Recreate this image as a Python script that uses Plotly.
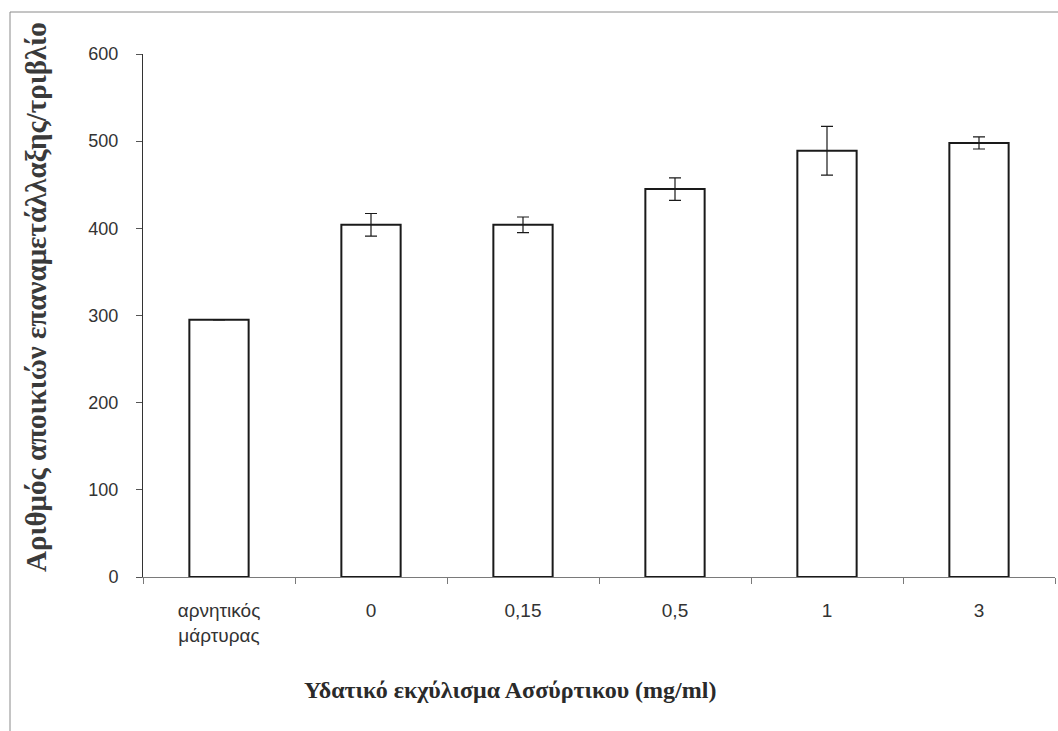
import plotly.graph_objects as go

# Colony counts per plate for each extract concentration
categories = ["αρνητικός<br>μάρτυρας", "0", "0,15", "0,5", "1", "3"]
mean_counts = [295, 404, 404, 445, 489, 498]
std_errors = [0, 13, 9, 13, 28, 7]
y_ticks = [0, 100, 200, 300, 400, 500, 600]

W, H = 1058, 731
L, R, T, B = 143, 3, 54, 154

fig = go.Figure()
fig.add_trace(go.Bar(
    x=categories,
    y=mean_counts,
    width=0.39,
    marker=dict(color="white", line=dict(color="#1a1a1a", width=2)),
    error_y=dict(type="data", array=std_errors, visible=True,
                 color="#1a1a1a", thickness=1.2, width=6),
    showlegend=False,
))

fig.update_layout(
    width=W, height=H,
    margin=dict(l=L, r=R, t=T, b=B),
    paper_bgcolor="white",
    plot_bgcolor="white",
    bargap=0.61,
    xaxis=dict(
        type="category",
        showline=True, linecolor="#7a7a7a", linewidth=1,
        ticks="outside", ticklen=6, tickcolor="#7a7a7a",
        tickson="boundaries",
        showgrid=False, zeroline=False,
        tickfont=dict(family="Liberation Sans Narrow, Arial Narrow, Liberation Sans, Arial",
                      size=19, color="#333333"),
        ticklabelstandoff=16,
    ),
    yaxis=dict(
        range=[0, 600],
        tickvals=y_ticks,
        showline=True, linecolor="#333333", linewidth=1,
        ticks="outside", ticklen=6, tickcolor="#555555",
        showgrid=False, zeroline=False,
        tickfont=dict(family="Liberation Sans, Arial", size=18, color="#333333"),
        ticklabelstandoff=14,
    ),
    annotations=[
        dict(text="<b>Αριθμός αποικιών επαναμετάλλαξης/τριβλίο</b>",
             xref="paper", yref="paper",
             x=-(L - 36) / (W - L - R), y=(577 - 297) / 523,
             xanchor="center", yanchor="middle", textangle=-90, showarrow=False,
             font=dict(family="Liberation Serif, Times New Roman", size=29, color="#3a3a3a")),
        dict(text="<b>Υδατικό εκχύλισμα Ασσύρτικου (mg/ml)</b>",
             xref="paper", yref="paper",
             x=(510 - L) / (W - L - R), y=-(690 - (H - B)) / (H - T - B),
             xanchor="center", yanchor="middle", showarrow=False,
             font=dict(family="Liberation Serif, Times New Roman", size=24, color="#2a2a2a")),
    ],
    shapes=[
        # chart area border
        dict(type="rect", xref="paper", yref="paper",
             x0=-(L - 10) / (W - L - R), x1=(W + 20 - L) / (W - L - R),
             y0=-(H + 20 - (H - B)) / (H - T - B), y1=1 + (T - 12) / (H - T - B),
             line=dict(color="#8a8a8a", width=1), layer="below"),
    ],
)

fig.write_html("out.html")
